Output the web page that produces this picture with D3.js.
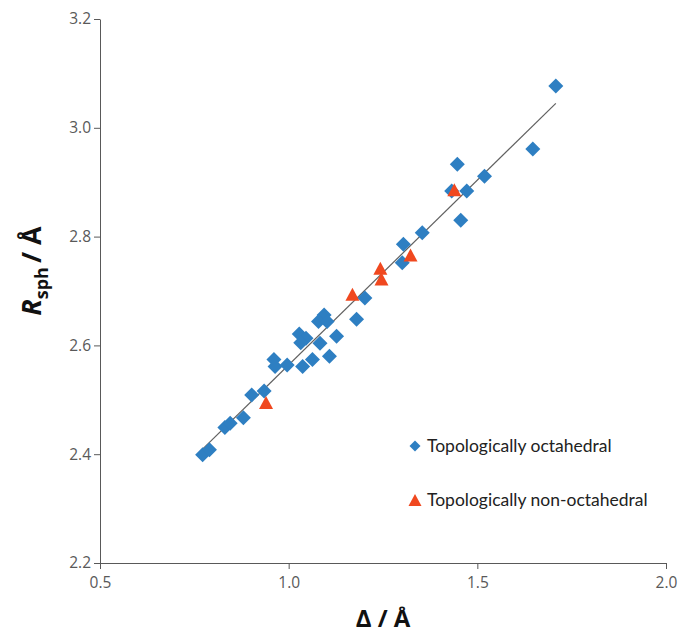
<!DOCTYPE html>
<html>
<head>
<meta charset="utf-8">
<script src="https://cdn.jsdelivr.net/npm/d3@7"></script>
<style>
  body { margin: 0; background: #fff; }
  svg { display: block; }
</style>
</head>
<body>
<script>
// octahedral points [delta, Rsph]
const octaDelta = [0.772, 0.79, 0.831, 0.845, 0.88, 0.902, 0.935, 0.961, 0.964, 0.996,
    1.028, 1.046, 1.032, 1.037, 1.063, 1.083, 1.108, 1.094, 1.079, 1.102,
    1.127, 1.180, 1.202, 1.301, 1.304, 1.354, 1.456, 1.432, 1.472, 1.447,
    1.519, 1.647, 1.708];
const octaR = [2.399, 2.408, 2.449, 2.457, 2.467, 2.509, 2.516, 2.574, 2.561, 2.564,
    2.621, 2.613, 2.605, 2.561, 2.574, 2.604, 2.580, 2.656, 2.644, 2.644,
    2.617, 2.648, 2.687, 2.752, 2.786, 2.807, 2.830, 2.884, 2.884, 2.933,
    2.911, 2.961, 3.077];
// non-octahedral points
const nonOctaDelta = [0.94, 1.169, 1.243, 1.246, 1.323, 1.439];
const nonOctaR = [2.495, 2.694, 2.742, 2.722, 2.766, 2.886];
// fitted line end points
const fitDelta = [0.767, 1.708];
const fitR = [2.406, 3.045];

const xTicks = [0.5, 1.0, 1.5, 2.0];
const yTicks = [2.2, 2.4, 2.6, 2.8, 3.0, 3.2];
const legendLabels = ["Topologically octahedral", "Topologically non-octahedral"];

const blue = "#2e7fc2", red = "#f0481f";

const margin = {top: 19, right: 14, bottom: 73, left: 100},
    width = 680 - margin.left - margin.right,
    height = 636 - margin.top - margin.bottom;

const svg = d3.select("body")
    .append("svg")
    .attr("width", 680)
    .attr("height", 636)
    .append("g")
    .attr("transform", `translate(${margin.left}, ${margin.top})`);

const x = d3.scaleLinear().domain([0.5, 2.0]).range([0, width]);
const y = d3.scaleLinear().domain([2.2, 3.2]).range([height, 0]);

const axisColor = "#595959";

// x axis
const xAxis = svg.append("g")
    .attr("transform", `translate(0, ${height})`)
    .call(d3.axisBottom(x).tickValues(xTicks).tickFormat(d3.format(".1f")).tickSize(6).tickSizeOuter(0));
// y axis
const yAxis = svg.append("g")
    .call(d3.axisLeft(y).tickValues(yTicks).tickFormat(d3.format(".1f")).tickSize(6).tickSizeOuter(0));

[xAxis, yAxis].forEach(a => {
    a.select(".domain").attr("stroke", axisColor);
    a.selectAll(".tick line").attr("stroke", axisColor);
    a.selectAll(".tick text")
        .attr("fill", axisColor)
        .style("font-family", "Open Sans")
        .style("font-size", "15.5px");
});
xAxis.selectAll(".tick text").attr("dy", "1.0em");
yAxis.selectAll(".tick text").attr("x", -9);

// fit line
const line = d3.line().x(d => x(d[0])).y(d => y(d[1]));
svg.append("path")
    .datum(fitDelta.map((d, i) => [d, fitR[i]]))
    .attr("d", line)
    .attr("stroke", "#606060")
    .attr("stroke-width", 1.2)
    .attr("fill", "none");

const diamond = s => `M0,${-s}L${s},0L0,${s}L${-s},0Z`;
const triangle = (w, h) => `M0,${-h}L${w},${h}L${-w},${h}Z`;

// diamonds
svg.selectAll(".octa")
    .data(octaDelta.map((d, i) => [d, octaR[i]]))
    .enter()
    .append("path")
    .attr("class", "octa")
    .attr("d", diamond(7.5))
    .attr("transform", d => `translate(${x(d[0])}, ${y(d[1])})`)
    .attr("fill", blue);

// triangles
svg.selectAll(".nonocta")
    .data(nonOctaDelta.map((d, i) => [d, nonOctaR[i]]))
    .enter()
    .append("path")
    .attr("class", "nonocta")
    .attr("d", triangle(7, 6.5))
    .attr("transform", d => `translate(${x(d[0])}, ${y(d[1])})`)
    .attr("fill", red);

// axis titles
svg.append("text")
    .attr("x", width / 2)
    .attr("y", height + 64)
    .attr("text-anchor", "middle")
    .style("font-family", "Open Sans")
    .style("font-weight", "bold")
    .style("font-size", "24px")
    .attr("fill", "#111")
    .text("Δ / Å");

const yTitle = svg.append("text")
    .attr("transform", `translate(${-59}, ${height / 2 - 20}) rotate(-90)`)
    .attr("text-anchor", "middle")
    .style("font-family", "Open Sans")
    .style("font-weight", "bold")
    .style("font-size", "27px")
    .attr("fill", "#111");
yTitle.append("tspan").style("font-style", "italic").text("R");
yTitle.append("tspan").attr("dy", 7).style("font-size", "18px").text("sph");
yTitle.append("tspan").attr("dy", -7).attr("dx", 4).text("/ Å");

// legend
const legend = svg.selectAll(".legend-item")
    .data(legendLabels)
    .enter()
    .append("g")
    .attr("class", "legend-item")
    .attr("transform", (d, i) => `translate(${315}, ${427 + i * 54})`);

legend.append("path")
    .attr("d", (d, i) => i === 0 ? diamond(5.5) : triangle(6.5, 6))
    .attr("fill", (d, i) => i === 0 ? blue : red);

legend.append("text")
    .attr("x", 12)
    .attr("y", 0)
    .attr("dy", "0.35em")
    .style("font-family", "Lato")
    .style("font-size", "17.5px")
    .attr("fill", "#222")
    .text(d => d);
</script>
</body>
</html>
